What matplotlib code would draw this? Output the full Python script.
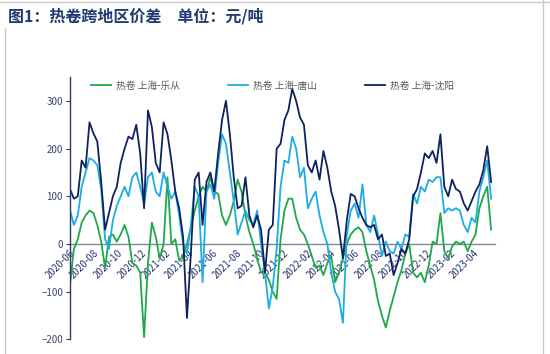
import numpy as np
import pandas as pd
import matplotlib
matplotlib.use("Agg")
import matplotlib.pyplot as plt
import matplotlib.dates as mdates

plt.rcParams['font.family'] = ['Noto Sans CJK SC', 'DejaVu Sans']

# donnees (un point tous les 10 jours depuis 2020-06-01)
debut = '2020-06-01'
nb_points = 109

# 热卷 上海-乐从
leconf = [-85, -10, 10, 45, 60, 70, 65, 40, 5, -50,
          15, 20, 5, 20, 40, 15, -40, -45, -60, -195,
          -40, 45, 15, -30, 0, 140, 0, 10, -35, -25,
          0, 35, 70, 100, 120, 110, 140, 110, 105, 60,
          40, 60, 90, 135, 110, 60, 25, 0, -30, -60,
          -60, -75, -100, -115, 10, 70, 95, 95, 55, 30,
          20, 0, -25, -50, -45, -65, -40, -25, -80, -60,
          -30, 0, 20, 30, 35, 25, -15, -45, -75, -120,
          -150, -175, -140, -110, -80, -55, -20, 0, -60, -70,
          -60, -80, -45, 5, 0, 65, -15, -30, -5, 5,
          0, 5, -15, 5, 20, 75, 100, 120, 30]

# 热卷 上海-唐山
tangshan = [70, 40, 60, 120, 150, 180, 175, 165, 115, 10,
            -10, 50, 80, 100, 120, 100, 140, 150, 120, 85,
            140, 150, 110, 100, 150, 120, 95, 110, 60, 0,
            -20, 40, 120, 100, -80, 110, 125, 95, 170, 230,
            210, 150, 90, 20, 45, 70, 50, 40, 70, 0,
            -60, -135, -90, -10, 120, 175, 170, 225, 200, 140,
            160, 75, 95, 110, 60, 25, 0, -60, -100, -115,
            -165, 20, 70, 85, 55, 125, 40, 25, 60, 20,
            -25, 5, -15, -20, 5, -10, 20, 15, 105, 85,
            120, 110, 135, 130, 140, 140, 65, 75, 70, 75,
            70, 40, 25, 55, 45, 110, 140, 175, 95]

# 热卷 上海-沈阳
shenyang = [115, 95, 100, 175, 160, 255, 232, 215, 130, 30,
            65, 100, 120, 170, 200, 225, 220, 250, 190, 75,
            280, 245, 170, 150, 255, 230, 175, 110, 75, 15,
            -155, -20, 135, 150, 40, 130, 150, 110, 190, 260,
            300, 230, 140, 75, 80, 140, 60, 35, 60, 30,
            -60, 30, 40, 200, 210, 260, 280, 325, 300, 265,
            250, 165, 150, 175, 135, 195, 160, 110, 80, 30,
            -30, 50, 105, 100, 75, 55, 40, 35, 40, 10,
            20, -25, -20, -65, -40, -10, -20, 10, 100, 115,
            150, 190, 180, 195, 170, 230, 120, 100, 135, 115,
            110, 85, 70, 90, 110, 125, 155, 205, 130]

noms = ['热卷 上海-乐从', '热卷 上海-唐山', '热卷 上海-沈阳']
couleurs = ['#1fa84a', '#1cace6', '#0e2260']

ticks_y = [-200, -100, 0, 100, 200, 300]
ticks_x = pd.date_range('2020-06-01', '2023-04-01', freq='2MS')

dates = pd.date_range(debut, periods=nb_points, freq='10D')

# =============================================================================
#                               FIGURE
# =============================================================================
fig = plt.figure(figsize=(5.5, 3.54), dpi=100)
ax = fig.add_axes([70 / 550, 0.041, 425 / 550, 0.7415])

for serie, nom, c in zip([leconf, tangshan, shenyang], noms, couleurs):
    ax.plot(dates, serie, color=c, lw=1.3, label=nom)

ax.set_xlim(pd.Timestamp(debut), pd.Timestamp(debut) + pd.Timedelta(days=1090))
ax.set_ylim(-200, 350)
ax.set_yticks(ticks_y)
ax.set_xticks(ticks_x)
ax.xaxis.set_major_formatter(mdates.DateFormatter('%Y-%m'))

# axe des x sur la ligne zero, comme dans excel
ax.spines['bottom'].set_position(('data', 0))
ax.spines['bottom'].set_color('#7d8597')
ax.spines['bottom'].set_linewidth(1.0)
ax.spines['bottom'].set_zorder(1)
ax.spines['left'].set_color('#2c3a66')
ax.spines['left'].set_linewidth(1.0)
ax.spines['top'].set_visible(False)
ax.spines['right'].set_visible(False)

ax.tick_params(axis='y', length=3, width=0.8, color='#2c3a66', labelsize=7,
               labelcolor='#3a4470', pad=2)
ax.tick_params(axis='x', length=0, labelsize=7, labelcolor='#26336a', pad=3)
for lab in ax.get_xticklabels():
    lab.set_rotation(45)
    lab.set_ha('right')
    lab.set_va('top')
    lab.set_rotation_mode('anchor')

leg = ax.legend(loc='upper left', bbox_to_anchor=(0.04, 1.0), ncol=3, frameon=False,
                fontsize=7, handlelength=2.1, handletextpad=0.5, columnspacing=4.9,
                borderaxespad=0.0)
for t in leg.get_texts():
    t.set_color('#5a5a5a')

# titre et cadre
fig.text(8 / 550, 1 - 16 / 354, '图1：热卷跨地区价差\u3000单位：元/吨', fontsize=11.5,
         fontweight='bold', color='#1f3a6e', va='center', ha='left')
fig.add_artist(plt.Line2D([5 / 550, 5 / 550], [0, 1 - 28 / 354], color='#c8c8c8', lw=1))
fig.add_artist(plt.Line2D([543 / 550, 543 / 550], [0, 1], color='#c8c8c8', lw=1))
fig.add_artist(plt.Line2D([0, 1], [1 - 1.5 / 354, 1 - 1.5 / 354], color='#c8c8c8', lw=1))

fig.savefig('out.png', dpi=100)
